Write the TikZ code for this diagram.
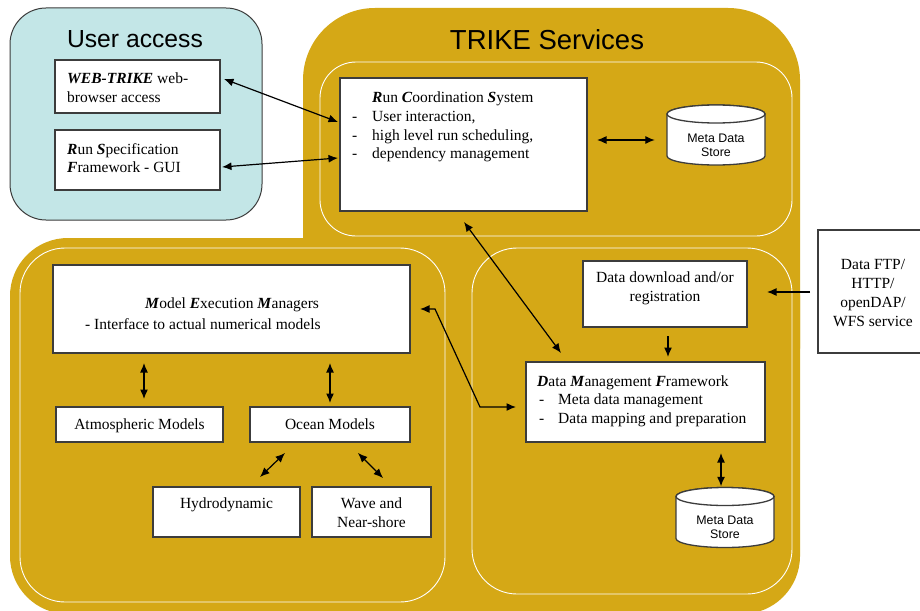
\documentclass[tikz,border=0pt]{standalone}
\usepackage{fontspec}
\setmainfont{Liberation Serif}
\newfontfamily\sansf{Liberation Sans}
\usetikzlibrary{arrows.meta,calc}
\definecolor{gold}{HTML}{D5A816}
\definecolor{ublue}{HTML}{C3E6E7}
\definecolor{bline}{HTML}{3C3C3C}
\newcommand{\bix}[1]{\textbf{\textit{#1}}}
\newcommand{\cylstore}[3]{%
  \node[inner sep=0pt,minimum width=98pt,minimum height=60pt] (#1) at (#2,#3) {};
  \begin{scope}[shift={(#2,#3)}]
    \filldraw[cylf] (-49,-21) -- (-49,21) arc[start angle=180,end angle=0,x radius=49,y radius=9]
      -- (49,-21) arc[start angle=0,end angle=-180,x radius=49,y radius=9] -- cycle;
    \draw[cylf] (0,-21) ellipse[x radius=49,y radius=9];
  \end{scope}}
\begin{document}
\begin{tikzpicture}[x=1pt,y=-1pt,
  box/.style={draw=bline,fill=white,line width=1.3pt,inner sep=0pt,outer sep=0pt},
  tx/.style={inner sep=0pt,font=\fontsize{15.5}{19}\selectfont},
  tl/.style={tx,anchor=base west},
  tc/.style={tx,anchor=base},
  arr/.style={line width=1.2pt,{Latex[length=9.5pt,width=8pt]}-{Latex[length=9.5pt,width=8pt]}},
  arrone/.style={line width=1.2pt,-{Latex[length=9.5pt,width=8pt]}},
  cylf/.style={draw=bline,fill=white,line width=1.3pt},
  storetext/.style={inner sep=0pt,align=center,font=\sansf\fontsize{12.4}{14}\selectfont},
  frame/.style={draw=white,line width=0.9pt}]
\clip (0,0) rectangle (920,610);
\fill[white] (0,0) rectangle (920,610);
% user access
\draw[fill=ublue,draw=bline,line width=1pt,rounded corners=36pt] (10,8) rectangle (262,220);
% trike services
\fill[gold,rounded corners=72pt] (303,8) rectangle (800,420);
\fill[gold,rounded corners=58pt] (10,238) rectangle (800,614);
\draw[frame,rounded corners=36pt] (320,62) rectangle (792,236);
\draw[frame,rounded corners=45pt] (20,248) rectangle (445,602);
\draw[frame,rounded corners=45pt] (472,248) rectangle (792,594);
% titles
\node[font=\sansf\fontsize{24.7}{28}\selectfont,inner sep=0pt,anchor=base] (uatitle) at (135,48) {User access};
\node[font=\sansf\fontsize{27.5}{30}\selectfont,inner sep=0pt,anchor=base] (tstitle) at (547,50) {TRIKE Services};
% boxes
\node[box,minimum width=165pt,minimum height=53pt] (web) at (137.5,86.5) {};
\node[box,minimum width=165pt,minimum height=60pt] (rsf) at (137.5,160) {};
\node[box,minimum width=247pt,minimum height=133pt] (rcs) at (463.5,144.5) {};
\node[box,minimum width=357pt,minimum height=88pt] (mem) at (231.5,309) {};
\node[box,minimum width=167pt,minimum height=35pt] (atm) at (139.5,424.5) {};
\node[box,minimum width=160pt,minimum height=35pt] (ocean) at (330,424.5) {};
\node[box,minimum width=147pt,minimum height=50pt] (hydro) at (226.5,512) {};
\node[box,minimum width=119pt,minimum height=50pt] (wave) at (371.5,512) {};
\node[box,minimum width=164pt,minimum height=66pt] (dl) at (665,294) {};
\node[box,minimum width=239pt,minimum height=80pt] (dmf) at (645.5,402) {};
\node[box,minimum width=107pt,minimum height=123pt] (ftp) at (871.5,291.5) {};
\cylstore{meta1}{716}{135}
\node[storetext] (meta1t) at (716,145.5) {Meta Data\\Store};
\cylstore{meta2}{725}{517.5}
\node[storetext] (meta2t) at (725,527.5) {Meta Data\\Store};
% texts
\node[tl] (web1) at (67,83) {\bix{WEB-TRIKE} web-};
\node[tl] (web2) at (67,102) {browser access};
\node[tl] (rsf1) at (67,154) {\bix{R}un \bix{S}pecification};
\node[tl] (rsf2) at (67,172) {\bix{F}ramework - GUI};
\node[tl] (rcs0) at (372,102) {\bix{R}un \bix{C}oordination \bix{S}ystem};
\node[tl] (rcsd1) at (352,121) {-};
\node[tl] (rcs1) at (372,121) {User interaction,};
\node[tl] (rcsd2) at (352,140) {-};
\node[tl] (rcs2) at (372,140) {high level run scheduling,};
\node[tl] (rcsd3) at (352,158) {-};
\node[tl] (rcs3) at (372,158) {dependency management};
\node[tc] (mem1) at (232,308) {\bix{M}odel \bix{E}xecution \bix{M}anagers};
\node[tl] (mem2) at (85,329) {- Interface to actual numerical models};
\node[tc] (atmt) at (139.5,429) {Atmospheric Models};
\node[tc] (oceant) at (330,429) {Ocean Models};
\node[tc] (hydrot) at (226.5,508) {Hydrodynamic};
\node[tc] (wave1) at (371.5,508) {Wave and};
\node[tc] (wave2) at (371.5,527) {Near-shore};
\node[tc] (dl1) at (665,282) {Data download and/or};
\node[tc] (dl2) at (665,301) {registration};
\node[tl] (dmf0) at (537,386) {\bix{D}ata \bix{M}anagement \bix{F}ramework};
\node[tl] (dmfd1) at (539,404) {-};
\node[tl] (dmf1) at (558,404) {Meta data management};
\node[tl] (dmfd2) at (539,423) {-};
\node[tl] (dmf2) at (558,423) {Data mapping and preparation};
\node[tc] (ftp1) at (873,269) {Data FTP/};
\node[tc] (ftp2) at (873,288) {HTTP/};
\node[tc] (ftp3) at (873,307) {openDAP/};
\node[tc] (ftp4) at (873,326) {WFS service};
% arrows
\draw[arr] ($(web.east)+(4,-7.5)$) -- ($(rcs.west)+(-2,-22.5)$);
\draw[arr] ($(rsf.east)+(2,7)$) -- ($(rcs.west)+(-2,13.5)$);
\draw[arr] ($(rcs.east)+(10,-4.5)$) -- ($(meta1.west)+(-12,5)$);
\draw[arr] ($(rcs.south)+(0.5,11)$) -- ($(dmf.north west)+(35,-9)$);
\draw[arr] ($(mem.east)+(10,0)$) -- ++(15,0) -- ($(dmf.west)+(-46,5)$) -- ($(dmf.west)+(-10,5)$);
\draw[arr] ($(mem.south)+(-87.5,10)$) -- ($(atm.north)+(4.5,-8)$);
\draw[arr] ($(mem.south)+(98.5,10)$) -- ($(ocean.north)+(0,-4)$);
\draw[arr] ($(ocean.south)+(-45,11)$) -- ($(hydro.north)+(33.5,-10)$);
\draw[arr] ($(ocean.south)+(28,11)$) -- ($(wave.north)+(11.5,-9)$);
\draw[arrone] ($(dl.south)+(3,9)$) -- ($(dmf.north)+(22.5,-5)$);
\draw[arr] ($(dmf.south)+(75.5,11)$) -- ($(meta2.north)+(-4,-1)$);
\draw[arrone] ($(ftp.west)+(-8,0.5)$) -- ($(dl.east)+(20,-2)$);
\end{tikzpicture}
\end{document}
